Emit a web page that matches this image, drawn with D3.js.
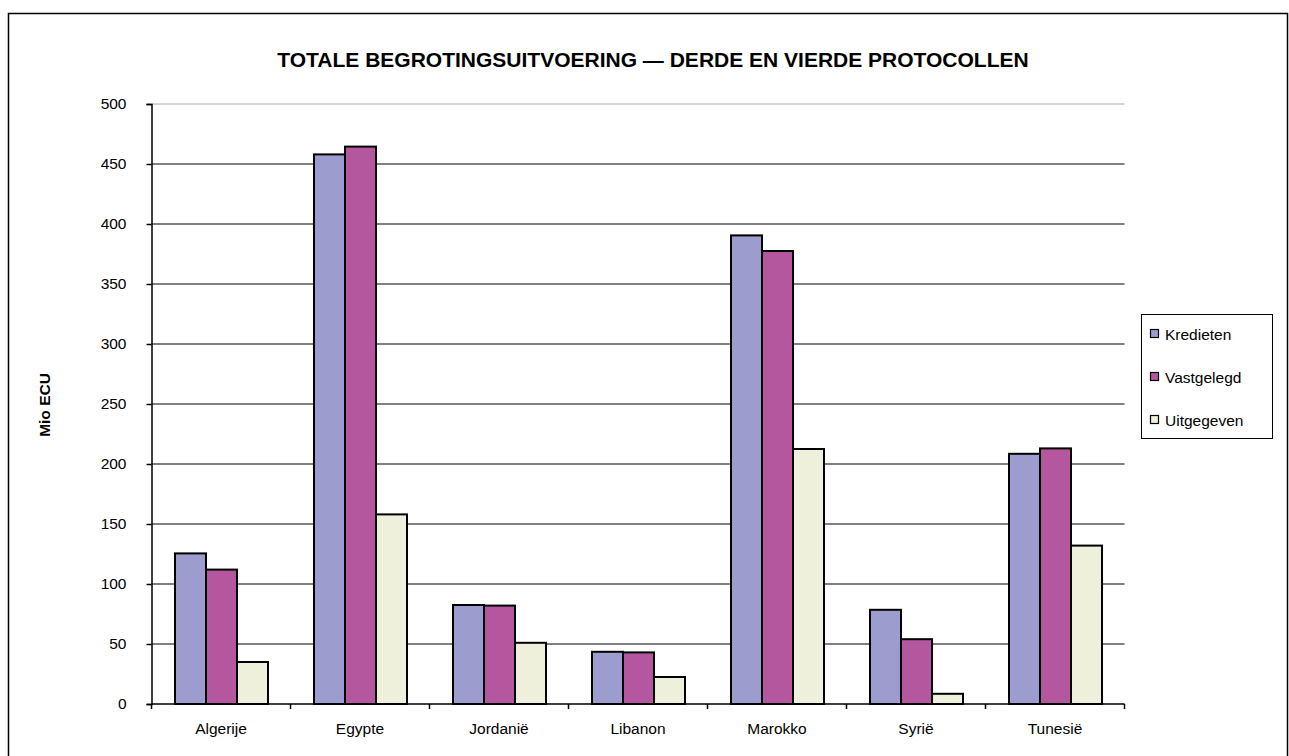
<!DOCTYPE html>
<html lang="en">
<head>
  <meta charset="UTF-8">
  <title>Totale begrotingsuitvoering</title>
  <style>
    body { margin: 0; background: #fff; font-family: Arial, "Liberation Sans", sans-serif; }
    svg { display: block; }
    .bar { stroke: #000; stroke-width: 2px; }
    .tick text { font-size: 15.5px; fill: #000; font-family: Arial, "Liberation Sans", sans-serif; }
  </style>
</head>
<body>
  <svg width="1289" height="756"></svg>

  <script src="https://d3js.org/d3.v7.min.js"></script>
  <script>
    const countries = ["Algerije", "Egypte", "Jordanië", "Libanon", "Marokko", "Syrië", "Tunesië"];
    const seriesNames = ["Kredieten", "Vastgelegd", "Uitgegeven"];
    const kredieten = [125.5, 458, 82.5, 43.5, 390.5, 78.5, 208.5];
    const vastgelegd = [112, 464.5, 82, 43, 377.5, 54, 213];
    const uitgegeven = [35, 158, 51, 22.5, 212.5, 8.5, 132];
    const yTicks = [0, 50, 100, 150, 200, 250, 300, 350, 400, 450, 500];
    const colors = ["#9c9ccf", "#b5579f", "#eef0dc"];

    const svg = d3.select("svg");
    const margin = { left: 151.5, right: 1124.5, top: 104, bottom: 704 };

    // outer chart frame
    svg.append("rect")
      .attr("x", 8.5).attr("y", 13.5)
      .attr("width", 1279).attr("height", 800)
      .attr("fill", "none").attr("stroke", "#000").attr("stroke-width", 1.5);

    const x = d3.scaleBand().domain(countries).range([margin.left, margin.right]);
    const x1 = d3.scaleBand().domain(seriesNames).range([23.5, x.bandwidth() - 22.5]);
    const y = d3.scaleLinear().domain([0, 500]).range([margin.bottom, margin.top]);

    // gridlines
    svg.append("g")
      .selectAll("line")
      .data(yTicks.filter(d => d > 0))
      .join("line")
      .attr("x1", margin.left).attr("x2", margin.right)
      .attr("y1", d => y(d)).attr("y2", d => y(d))
      .attr("stroke-width", 2)
      .attr("stroke", d => d === 500 ? "#d4d4d4" : "#808080");

    const data = countries.map((c, i) => ({
      country: c,
      values: [kredieten[i], vastgelegd[i], uitgegeven[i]]
    }));

    const groups = svg.append("g")
      .selectAll("g")
      .data(data)
      .join("g")
      .attr("transform", d => `translate(${x(d.country)},0)`);

    groups.selectAll("rect")
      .data(d => d.values.map((v, j) => ({ name: seriesNames[j], value: v, idx: j })))
      .join("rect")
      .attr("class", "bar")
      .attr("x", d => x1(d.name))
      .attr("width", x1.bandwidth())
      .attr("y", d => y(d.value))
      .attr("height", d => y(0) - y(d.value))
      .attr("fill", d => colors[d.idx]);

    // y axis
    const yAxis = svg.append("g")
      .attr("transform", `translate(${margin.left},0)`)
      .call(d3.axisLeft(y).tickValues(yTicks).tickSize(5).tickPadding(20));
    yAxis.select(".domain").attr("stroke", "#000").attr("stroke-width", 1.5);
    yAxis.selectAll(".tick line").attr("stroke", "#000").attr("stroke-width", 1.5);

    // x axis with ticks between categories
    const xAxisG = svg.append("g").attr("transform", `translate(0,${margin.bottom})`);
    xAxisG.append("line")
      .attr("x1", margin.left).attr("x2", margin.right)
      .attr("stroke", "#000").attr("stroke-width", 1.5);
    xAxisG.selectAll(".sep")
      .data(countries.map(c => x(c)).concat([margin.right]))
      .join("line")
      .attr("x1", d => d).attr("x2", d => d)
      .attr("y1", 0).attr("y2", 5)
      .attr("stroke", "#000").attr("stroke-width", 1.5);
    xAxisG.selectAll(".lbl")
      .data(countries)
      .join("text")
      .attr("x", d => x(d) + x.bandwidth() / 2)
      .attr("y", 29.5)
      .attr("text-anchor", "middle")
      .attr("font-size", 15.5)
      .text(d => d);

    // title
    svg.append("text")
      .attr("x", 653).attr("y", 66.5)
      .attr("text-anchor", "middle")
      .attr("font-size", 21).attr("font-weight", "bold")
      .text("TOTALE BEGROTINGSUITVOERING — DERDE EN VIERDE PROTOCOLLEN");

    // y axis label
    svg.append("text")
      .attr("transform", "translate(50,405) rotate(-90)")
      .attr("text-anchor", "middle")
      .attr("font-size", 15.5).attr("font-weight", "bold")
      .text("Mio ECU");

    // legend
    const legend = svg.append("g").attr("transform", "translate(1141,314)");
    legend.append("rect")
      .attr("x", 0.5).attr("y", 0.5).attr("width", 131).attr("height", 124)
      .attr("fill", "#fff").attr("stroke", "#000").attr("stroke-width", 1);
    const items = legend.selectAll(".item")
      .data(seriesNames)
      .join("g")
      .attr("transform", (d, i) => `translate(0,${20 + i * 43})`);
    items.append("rect")
      .attr("x", 9.5).attr("y", -4.5).attr("width", 8).attr("height", 8)
      .attr("fill", (d, i) => colors[i]).attr("stroke", "#000").attr("stroke-width", 1.2);
    items.append("text")
      .attr("x", 24).attr("y", 5.5)
      .attr("font-size", 15.5)
      .text(d => d);
  </script>
</body>
</html>
